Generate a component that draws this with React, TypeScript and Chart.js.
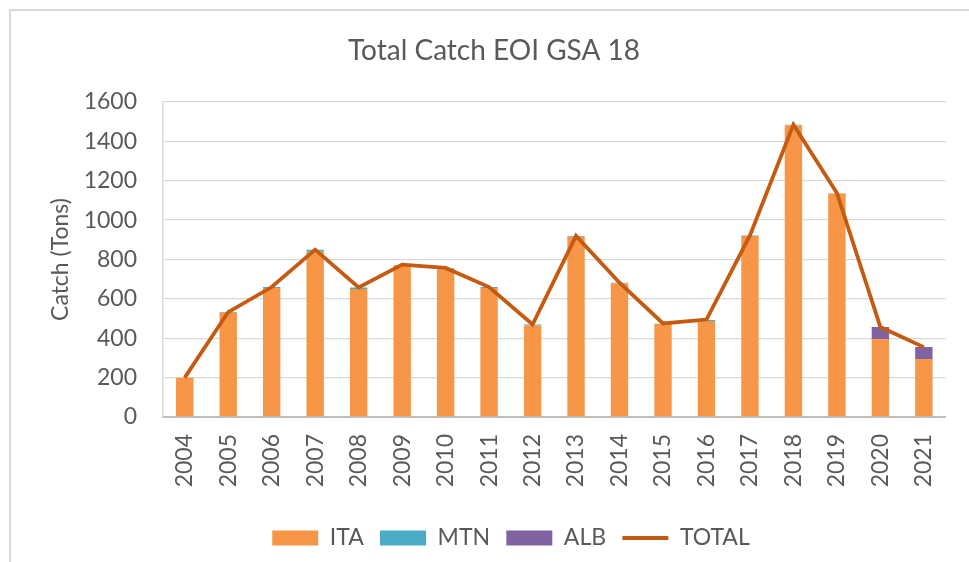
import React, { useEffect, useRef } from "react";
import { Chart, registerables } from "chart.js";

Chart.register(...registerables);

const YEARS = ["2004", "2005", "2006", "2007", "2008", "2009", "2010", "2011", "2012", "2013", "2014", "2015", "2016", "2017", "2018", "2019", "2020", "2021"];
const ITA = [200, 530, 655, 840, 650, 770, 750, 655, 465, 915, 678, 472, 488, 920, 1482, 1135, 395, 295];
const MTN = [0, 3, 5, 10, 8, 2, 5, 5, 5, 5, 4, 2, 5, 2, 3, 2, 0, 0];
const ALB = [0, 0, 0, 0, 0, 0, 0, 0, 0, 0, 0, 0, 0, 0, 0, 0, 62, 60];
const TOTAL = [200, 533, 660, 850, 658, 774, 757, 660, 470, 920, 682, 475, 495, 922, 1485, 1138, 457, 355];
const Y_MIN = 0;
const Y_MAX = 1600;
const Y_STEP = 200;

const TITLE = "Total Catch EOI GSA 18";
const Y_TITLE = "Catch (Tons)";

const FONT = "Lato, 'Open Sans', sans-serif";
const TEXT = "#595959";

const LEGEND_PAD = 16.3;
const LEGEND_H = 51.8;
const X_AXIS_H = 93.2;
const TITLE_SHIFT = 19;
const LEGEND_SHIFT = 36;

const layoutTweak = {
  id: "layoutTweak",
  beforeLayout(chart: any) {
    const lg = chart.legend;
    if (lg && !lg._patched) {
      const orig = lg.fit;
      lg.fit = function () {
        orig.call(this);
        this.height = LEGEND_H;
      };
      lg._patched = true;
    }
  },
  afterLayout(chart: any) {
    if (chart.titleBlock) {
      chart.titleBlock.left += TITLE_SHIFT;
      chart.titleBlock.right += TITLE_SHIFT;
    }
    if (chart.legend) {
      chart.legend.left += LEGEND_SHIFT;
      chart.legend.right += LEGEND_SHIFT;
    }
  },
};

export default function App() {
  const ref = useRef<HTMLCanvasElement | null>(null);

  useEffect(() => {
    if (!ref.current) return;
    const chart = new Chart(ref.current, {
      type: "bar",
      data: {
        labels: YEARS,
        datasets: [
          { type: "bar", label: "ITA", data: ITA, backgroundColor: "#F79646", borderWidth: 0, stack: "s", order: 1, pointStyle: "rect" },
          { type: "bar", label: "MTN", data: MTN, backgroundColor: "#4BACC6", borderWidth: 0, stack: "s", order: 1, pointStyle: "rect" },
          { type: "bar", label: "ALB", data: ALB, backgroundColor: "#8064A2", borderWidth: 0, stack: "s", order: 1, pointStyle: "rect" },
          {
            type: "line",
            label: "TOTAL",
            data: TOTAL,
            borderColor: "#C55A11",
            backgroundColor: "#C55A11",
            borderWidth: 3.8,
            pointRadius: 0,
            tension: 0,
            stack: "line",
            order: 0,
            pointStyle: "line",
          } as any,
        ],
      },
      options: {
        responsive: false,
        animation: false,
        devicePixelRatio: 1,
        layout: { padding: { left: 0, right: 19, top: 0, bottom: 0 } },
        datasets: {
          bar: { categoryPercentage: 1, barPercentage: 0.4 },
        },
        plugins: {
          tooltip: { enabled: false },
          title: {
            display: true,
            text: TITLE,
            color: TEXT,
            font: { family: FONT, size: 28, weight: "normal" },
            padding: { top: 34, bottom: 34.4 },
          },
          legend: {
            position: "bottom",
            labels: {
              usePointStyle: true,
              pointStyleWidth: 46,
              boxHeight: 15,
              padding: LEGEND_PAD,
              color: TEXT,
              font: { family: FONT, size: 23 },
              sort: (a: any, b: any) => a.datasetIndex - b.datasetIndex,
            },
          },
        },
        scales: {
          x: {
            stacked: true,
            grid: { display: false, drawTicks: false },
            border: { display: true, color: "#BFBFBF", width: 2 },
            ticks: {
              autoSkip: false,
              maxRotation: 90,
              minRotation: 90,
              padding: 17,
              color: TEXT,
              font: { family: FONT, size: 23 },
            },
            afterFit: (s: any) => {
              s.height = X_AXIS_H;
            },
          },
          y: {
            stacked: true,
            min: Y_MIN,
            max: Y_MAX,
            grid: { color: "#D9D9D9", lineWidth: 1.3, drawTicks: false },
            border: { display: true, color: "#D9D9D9", width: 1.3 },
            ticks: {
              stepSize: Y_STEP,
              padding: 26,
              color: TEXT,
              font: { family: FONT, size: 23 },
              callback: (v: any) => String(v),
            },
            title: {
              display: true,
              text: Y_TITLE,
              color: TEXT,
              font: { family: FONT, size: 23 },
              padding: { top: 47, bottom: 0 },
            },
            afterFit: (s: any) => {
              s.width = 163;
            },
          },
        },
      },
      plugins: [layoutTweak],
    });
    return () => chart.destroy();
  }, []);

  return (
    <div style={{ position: "fixed", left: 0, top: 0, width: 969, height: 562, overflow: "hidden", background: "#fff" }}>
      <div
        style={{
          position: "absolute",
          left: 9,
          top: 9,
          width: 1100,
          height: 700,
          border: "2px solid #D9D9D9",
        }}
      />
      <canvas ref={ref} width={969} height={562} style={{ position: "absolute", left: 0, top: 0, width: 969, height: 562 }} />
    </div>
  );
}
